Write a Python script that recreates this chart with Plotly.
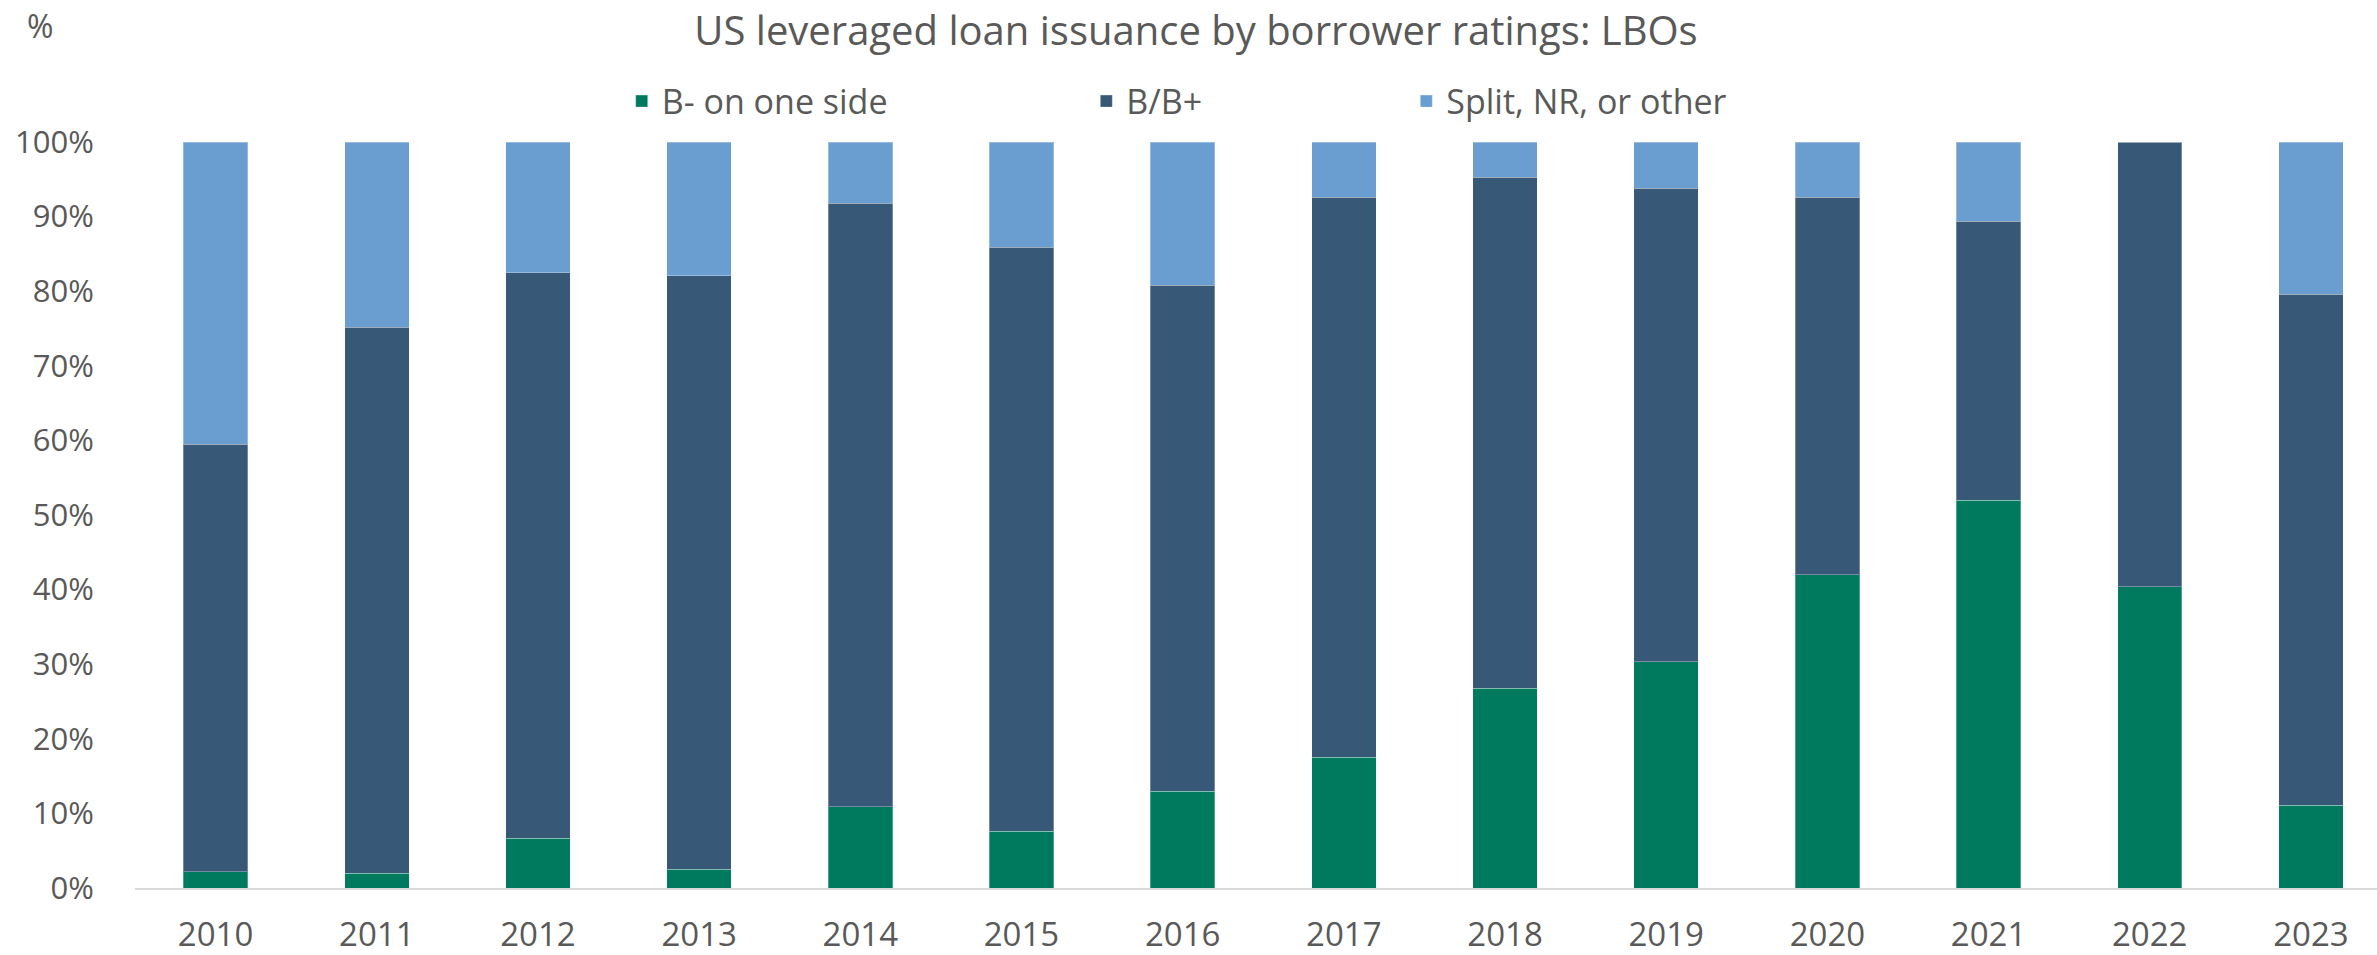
import plotly.graph_objects as go

years = ["2010", "2011", "2012", "2013", "2014", "2015", "2016",
         "2017", "2018", "2019", "2020", "2021", "2022", "2023"]
# shares in percent
b_minus = [2.2, 2.0, 6.7, 2.5, 10.9, 7.6, 13.0, 17.5, 26.8, 30.3, 42.0, 52.0, 40.4, 11.1]
b_bplus = [57.3, 73.2, 75.8, 79.6, 80.9, 78.3, 67.8, 75.1, 68.5, 63.5, 50.6, 37.4, 59.6, 68.5]
split_other = [40.5, 24.8, 17.5, 17.9, 8.2, 14.1, 19.2, 7.4, 4.7, 6.2, 7.4, 10.6, 0.0, 20.4]

series_names = ["B- on one side", "B/B+", "Split, NR, or other"]
colors = ["#007A5E", "#375877", "#6A9ED0"]
y_tick_vals = [0, 10, 20, 30, 40, 50, 60, 70, 80, 90, 100]
y_tick_text = ["0%", "10%", "20%", "30%", "40%", "50%", "60%", "70%", "80%", "90%", "100%"]

W, H = 2377, 955
FONT = "Open Sans"
TXT = "#595959"

fig = go.Figure()
legends = ["legend", "legend2", "legend3"]
for vals, name, col, lg in zip([b_minus, b_bplus, split_other], series_names, colors, legends):
    fig.add_trace(go.Bar(
        x=years, y=vals, name=name, legend=lg, showlegend=True,
        marker=dict(color=col, line=dict(width=1, color="rgba(255,255,255,0.3)")),
    ))

leg_common = dict(orientation="h", xref="container", yref="container",
                  xanchor="left", yanchor="middle", itemwidth=30,
                  font=dict(family=FONT, size=34, color=TXT),
                  bgcolor="rgba(0,0,0,0)", borderwidth=0)
legend_sym_x = [641.7, 1106.3, 1426.3]
leg_y = 1 - 101.5 / H

fig.update_layout(
    width=W, height=H,
    showlegend=True,
    margin=dict(l=135, r=0, t=142, b=67, pad=0, autoexpand=False),
    paper_bgcolor="white", plot_bgcolor="white",
    barmode="stack", bargap=0.6,
    font=dict(family=FONT, color=TXT),
    title=dict(text="US leveraged loan issuance by borrower ratings: LBOs",
               xref="container", yref="container",
               x=1196 / W, y=1 - 31 / H, xanchor="center", yanchor="middle",
               font=dict(family=FONT, size=40, color=TXT)),
    legend=dict(leg_common, x=(legend_sym_x[0] - 20) / W, y=leg_y),
    legend2=dict(leg_common, x=(legend_sym_x[1] - 20) / W, y=leg_y),
    legend3=dict(leg_common, x=(legend_sym_x[2] - 20) / W, y=leg_y),
    xaxis=dict(type="category", range=[-0.5, 13.41],
               showline=True, linecolor="#D9D9D9", linewidth=2,
               showgrid=False, zeroline=False,
               ticks="outside", ticklen=16, tickcolor="rgba(0,0,0,0)",
               tickfont=dict(family=FONT, size=33, color=TXT)),
    yaxis=dict(range=[0, 100], tickmode="array",
               tickvals=y_tick_vals, ticktext=y_tick_text,
               showline=False, showgrid=False, zeroline=False,
               ticks="outside", ticklen=34, tickcolor="rgba(0,0,0,0)",
               tickfont=dict(family=FONT, size=31, color=TXT)),
    annotations=[dict(text="%", xref="paper", yref="paper",
                      x=0, y=1, showarrow=False,
                      xanchor="center", yanchor="middle",
                      xshift=39.7 - 135, yshift=(142.3 - 26),
                      font=dict(family=FONT, size=32, color=TXT))],
)

fig.write_html(
    "out.html",
    config={"displayModeBar": False},
    post_script="document.body.style.margin='0';document.body.style.overflow='hidden';",
)
